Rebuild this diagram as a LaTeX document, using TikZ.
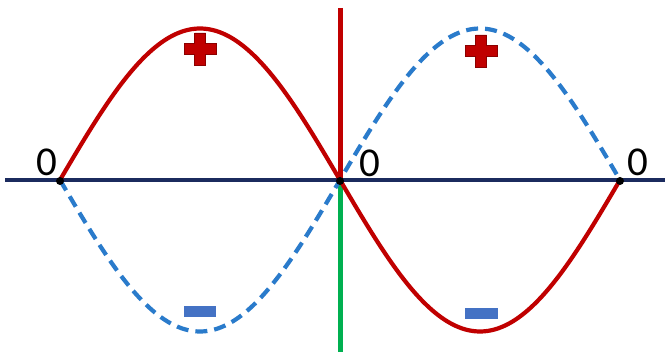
\documentclass[tikz,border=0pt]{standalone}
\usepackage{fontspec}
\setmainfont{Carlito}
\definecolor{axisnavy}{HTML}{1B2B5E}
\definecolor{cred}{HTML}{C00000}
\definecolor{cblue}{HTML}{2A7BCB}
\definecolor{cgreen}{HTML}{00B050}
\definecolor{minusblue}{HTML}{4472C4}
\definecolor{plusedge}{HTML}{8B0000}
\begin{document}
\begin{tikzpicture}[x=1pt,y=-1pt,
  curve/.style={line width=4.2pt},
  zerolbl/.style={font=\fontsize{41}{41}\selectfont, inner sep=0pt},
  plussign/.style={fill=cred, draw=plusedge, line width=0.8pt},
  minussign/.style={fill=minusblue, draw=none},
  dot/.style={circle, fill=black, inner sep=0pt, minimum size=8pt}]
\useasboundingbox (0,0) rectangle (665,352);
% axis
\draw[axisnavy, line width=4.5pt] (5,180) -- (665,180);
% vertical line
\coordinate (vtop) at (340.5,8);
\coordinate (vbot) at (340.5,352);
\coordinate (vmid) at (340.5,180);
\draw[cred, line width=5pt] (vtop) -- (vmid);
\draw[cgreen, line width=5pt] (vmid) -- (vbot);
% curves
\draw[cblue, curve, dash pattern=on 12pt off 7pt]
  plot[smooth, domain=60:620, samples=120] (\x, {180+151.5*sin((\x-60)/280*180)});
\draw[cred, curve]
  plot[smooth, domain=60:620, samples=120] (\x, {180-151.5*sin((\x-60)/280*180)});
% zero points
\node[dot] (z1) at (60,181) {};
\node[dot] (z2) at (340,181) {};
\node[dot] (z3) at (620,181) {};
\node[zerolbl] (l1) at (47,162) {0};
\node[zerolbl] (l2) at (370,163) {0};
\node[zerolbl] (l3) at (638,162) {0};
% plus signs
\draw[plussign] (194.5,33) -- (205.5,33) -- (205.5,43.5) -- (216,43.5) -- (216,54.5) -- (205.5,54.5) -- (205.5,65) -- (194.5,65) -- (194.5,54.5) -- (184,54.5) -- (184,43.5) -- (194.5,43.5) -- cycle;
\draw[plussign] (475.5,35) -- (486.5,35) -- (486.5,45.5) -- (497,45.5) -- (497,56.5) -- (486.5,56.5) -- (486.5,67) -- (475.5,67) -- (475.5,56.5) -- (465,56.5) -- (465,45.5) -- (475.5,45.5) -- cycle;
% minus signs
\fill[minussign] (184,306) rectangle (216,317);
\fill[minussign] (465,308) rectangle (498,319);
\end{tikzpicture}
\end{document}
